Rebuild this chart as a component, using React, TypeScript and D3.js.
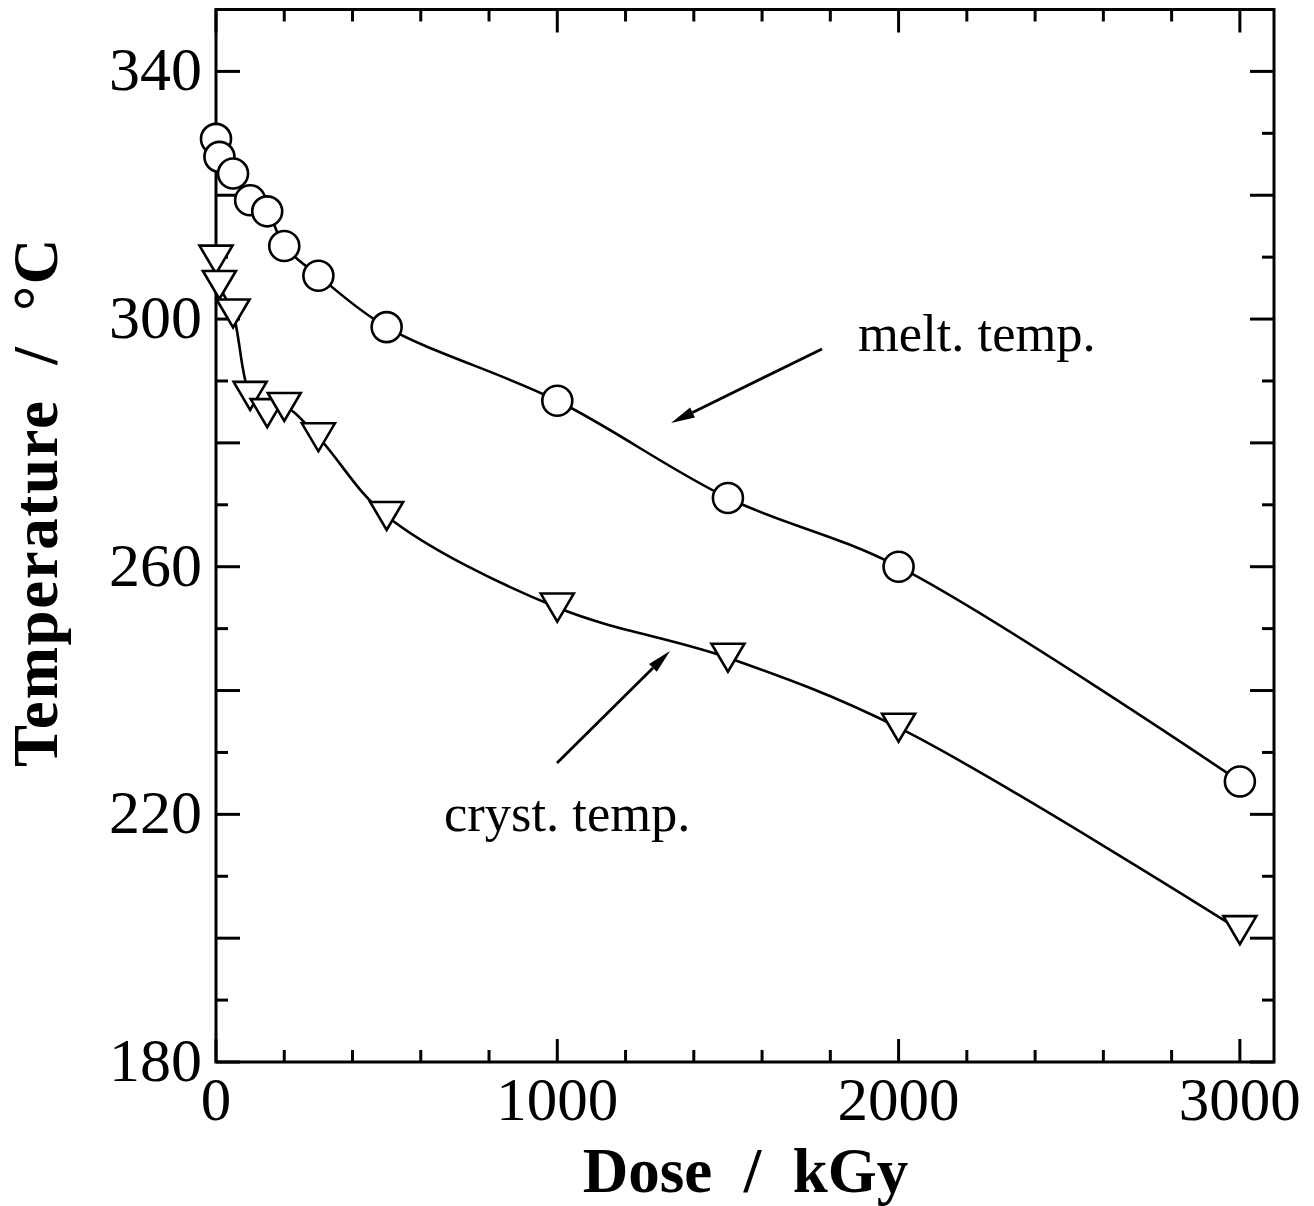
import React from "react";
import * as d3 from "d3";

// Dose (kGy) and temperatures (°C)
const meltDose = [0, 10, 50, 100, 150, 200, 300, 500, 1000, 1500, 2000, 3000];
const meltTemp = [329.1, 326.2, 323.5, 319.2, 317.4, 311.8, 307.0, 298.7, 286.8, 271.1, 260.0, 225.3];

const crystDose = [0, 10, 50, 100, 150, 200, 300, 500, 1000, 1500, 2000, 3000];
const crystTemp = [309.6, 305.5, 300.9, 287.6, 284.8, 285.8, 280.9, 268.2, 253.4, 245.3, 234.0, 201.3];

const xTickLabels = [0, 1000, 2000, 3000];
const yTickLabels = [180, 220, 260, 300, 340];

const W = 1314;
const H = 1206;
const left = 216;
const right = 1274;
const top = 9.5;
const bottom = 1062;

const serif = "'Liberation Serif', 'Times New Roman', serif";

export default function App() {
  const x = d3.scaleLinear().domain([0, 3100]).range([left, right]);
  const y = d3.scaleLinear().domain([180, 350]).range([bottom, top]);

  const line = d3
    .line<[number, number]>()
    .x((d) => x(d[0]))
    .y((d) => y(d[1]))
    .curve(d3.curveCatmullRom.alpha(0.5));

  const melt: [number, number][] = meltDose.map((d, i) => [d, meltTemp[i]]);
  const cryst: [number, number][] = crystDose.map((d, i) => [d, crystTemp[i]]);

  const xMinor = d3.range(0, 3100, 200);
  const yMinor = d3.range(180, 351, 10);

  const sw = 3;
  const tri = (cx: number, cy: number) => {
    const hw = 16.5;
    const hh = 14;
    return `M${cx - hw},${cy - hh}L${cx + hw},${cy - hh}L${cx},${cy + hh}Z`;
  };

  const arrow = (x1: number, y1: number, x2: number, y2: number) => {
    const ang = Math.atan2(y2 - y1, x2 - x1);
    const len = 24;
    const hw = 5.5;
    const bx = x2 - len * Math.cos(ang);
    const by = y2 - len * Math.sin(ang);
    const px = -Math.sin(ang) * hw;
    const py = Math.cos(ang) * hw;
    return (
      <g>
        <line x1={x1} y1={y1} x2={bx} y2={by} stroke="#000" strokeWidth={2.8} />
        <path d={`M${x2},${y2}L${bx + px},${by + py}L${bx - px},${by - py}Z`} fill="#000" />
      </g>
    );
  };

  return (
    <svg
      width={W}
      height={H}
      viewBox={`0 0 ${W} ${H}`}
      style={{ position: "absolute", left: 0, top: 0, background: "#fff" }}
    >
      <rect x={0} y={0} width={W} height={H} fill="#fff" />

      {/* curves */}
      <path d={line(melt) || ""} fill="none" stroke="#000" strokeWidth={2.6} />
      <path d={line(cryst) || ""} fill="none" stroke="#000" strokeWidth={2.6} />

      {/* frame */}
      <rect x={left} y={top} width={right - left} height={bottom - top} fill="none" stroke="#000" strokeWidth={sw} />

      {/* x ticks, bottom and top */}
      {xMinor.map((v) => {
        const major = v % 1000 === 0;
        const len = major ? 23 : 12;
        return (
          <g key={"xt" + v}>
            <line x1={x(v)} x2={x(v)} y1={bottom} y2={bottom - len} stroke="#000" strokeWidth={sw} />
            <line x1={x(v)} x2={x(v)} y1={top} y2={top + len} stroke="#000" strokeWidth={sw} />
          </g>
        );
      })}

      {/* y ticks, left and right */}
      {yMinor.map((v) => {
        const major = v % 20 === 0;
        const len = major ? 24 : 12;
        return (
          <g key={"yt" + v}>
            <line x1={left} x2={left + len} y1={y(v)} y2={y(v)} stroke="#000" strokeWidth={sw} />
            <line x1={right} x2={right - len} y1={y(v)} y2={y(v)} stroke="#000" strokeWidth={sw} />
          </g>
        );
      })}

      {/* tick labels */}
      {xTickLabels.map((v) => (
        <text key={"xl" + v} x={x(v)} y={1120} textAnchor="middle" fontFamily={serif} fontSize={61} fill="#000">
          {v}
        </text>
      ))}
      {yTickLabels.map((v) => (
        <text key={"yl" + v} x={202} y={y(v) + 19} textAnchor="end" fontFamily={serif} fontSize={62} fill="#000">
          {v}
        </text>
      ))}

      {/* axis titles */}
      <text
        x={(583 + 908) / 2}
        y={1192}
        textAnchor="middle"
        fontFamily={serif}
        fontWeight="bold"
        fontSize={63}
        fill="#000"
        style={{ whiteSpace: "pre" }}
      >
        {"Dose  /  kGy"}
      </text>
      <text
        transform={`translate(57, 502) rotate(-90)`}
        textAnchor="middle"
        fontFamily={serif}
        fontWeight="bold"
        fontSize={63}
        letterSpacing={1.6}
        fill="#000"
        style={{ whiteSpace: "pre" }}
      >
        {"Temperature  /  °C"}
      </text>

      {/* markers */}
      {melt.map((d, i) => (
        <circle key={"m" + i} cx={x(d[0])} cy={y(d[1])} r={15} fill="#fff" stroke="#000" strokeWidth={2.6} />
      ))}
      {cryst.map((d, i) => (
        <path key={"c" + i} d={tri(x(d[0]), y(d[1]))} fill="#fff" stroke="#000" strokeWidth={2.6} strokeLinejoin="miter" />
      ))}

      {/* annotations */}
      {arrow(822, 349, 671, 423)}
      {arrow(557, 763, 670, 651)}
      <text x={858} y={351} fontFamily={serif} fontSize={52.5} fill="#000">
        melt. temp.
      </text>
      <text x={444} y={831} fontFamily={serif} fontSize={52.5} fill="#000">
        cryst. temp.
      </text>
    </svg>
  );
}
